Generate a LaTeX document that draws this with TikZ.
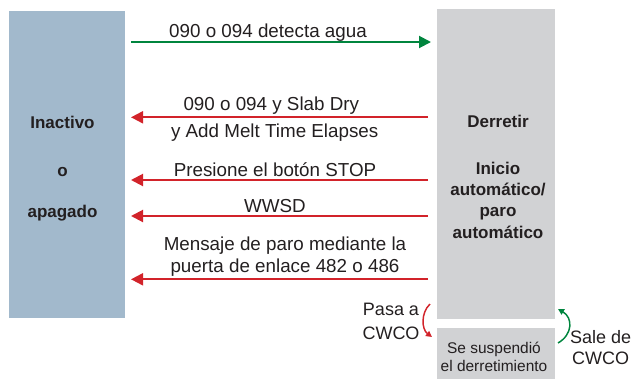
\documentclass[tikz,border=0pt]{standalone}
\usepackage{fontspec}
\setmainfont{Liberation Sans}
\usetikzlibrary{positioning, arrows.meta}
\definecolor{IdleBlue} {HTML}{A2B9CC}
\definecolor{MeltGray} {HTML}{D1D2D4}
\definecolor{GoGreen}  {HTML}{00853E}
\definecolor{StopRed}  {HTML}{D2232A}
\definecolor{InkDark}  {HTML}{231F20}

\begin{document}
\begin{tikzpicture}[x=0.75pt, y=-0.75pt,
    box/.style={inner sep=0pt, outer sep=0pt},
    lbl/.style={inner sep=0pt, text=InkDark, anchor=base,
                font=\fontsize{14.1}{16.5}\selectfont, align=center},
    side/.style={inner sep=0pt, text=InkDark, anchor=base, align=center},
    state/.style={inner sep=0pt, text=InkDark, anchor=base, align=center},
    goarr/.style={draw=GoGreen, line width=1.5pt, -{Triangle[length=9pt, width=9pt]}},
    stoparr/.style={draw=StopRed, line width=1.5pt, -{Triangle[length=9pt, width=9pt]}},
    bendarr/.style={line width=1.1pt, -{Triangle[length=4.5pt, width=4.5pt]}}]
  \useasboundingbox (0,0) rectangle (634,379);

  % state boxes
  \node[box, fill=IdleBlue, minimum width=87pt, minimum height=230.25pt] (inact) at (67,164.5) {};
  \node[box, fill=MeltGray, minimum width=88.5pt, minimum height=232.5pt] (melt) at (496,164) {};
  \node[box, fill=MeltGray, minimum width=88.5pt, minimum height=38.25pt, anchor=north] (halt) at (496,328) {};

  % base = last line
  \node[state, font=\bfseries\fontsize{12.75}{30.75}\selectfont] (inacttxt) at (62.5,217)
    {Inactivo\\[5.25pt] o\\ apagado};
  \node[state, font=\bfseries\fontsize{12.75}{16}\selectfont] (melttxt) at (498,238)
    {Derretir\\[19pt] Inicio\\ automático/\\ paro\\ automático};
  \node[state, font=\fontsize{11.6}{13.8}\selectfont] (halttxt) at (494,371.7)
    {Se suspendió\\ el derretimiento};

  % transitions
  \draw[goarr] ([xshift=4.5pt]inact.east |- 0,42) -- ([xshift=-4.5pt]melt.west |- 0,42);
  \draw[stoparr] ([xshift=-6.75pt]melt.west |- 0,117.3) -- ([xshift=4.5pt]inact.east |- 0,117.3);
  \draw[stoparr] ([xshift=-6.75pt]melt.west |- 0,180) -- ([xshift=4.5pt]inact.east |- 0,180);
  \draw[stoparr] ([xshift=-6.75pt]melt.west |- 0,216) -- ([xshift=4.5pt]inact.east |- 0,216);
  \draw[stoparr] ([xshift=-6.75pt]melt.west |- 0,279.3) -- ([xshift=4.5pt]inact.east |- 0,279.3);

  \node[lbl] (lwater) at (268,37.3) {090 o 094 detecta agua};
  \node[lbl] (ldry)   at (271.3,110.7) {090 o 094 y Slab Dry};
  \node[lbl] (ltime)  at (274.7,137.7) {y Add Melt Time Elapses};
  \node[lbl] (lstop)  at (275,176) {Presione el botón STOP};
  \node[lbl] (lwwsd)  at (275,212.7) {WWSD};
  \node[lbl, font=\fontsize{14.1}{16.5}\selectfont] (lgate) at (285,272.3)
    {Mensaje de paro mediante la\\ puerta de enlace 482 o 486};

  % CWCO
  \draw[bendarr, draw=StopRed] ([xshift=-5.25pt, yshift=11.25pt]melt.south west)
    to[bend right=50] ([xshift=-3.75pt, yshift=-6.75pt]halt.north west);
  \draw[bendarr, draw=GoGreen] ([xshift=2.25pt, yshift=-11.25pt]halt.north east)
    to[bend right=60, looseness=1.3] ([xshift=2.25pt, yshift=7.5pt]melt.south east);
  \node[side, font=\fontsize{13.5}{17.5}\selectfont] (lin)  at (391,339.3) {Pasa a\\ CWCO};
  \node[side, font=\fontsize{13.5}{15.5}\selectfont] (lout) at (600.7,364) {Sale de\\ CWCO};
\end{tikzpicture}
\end{document}
